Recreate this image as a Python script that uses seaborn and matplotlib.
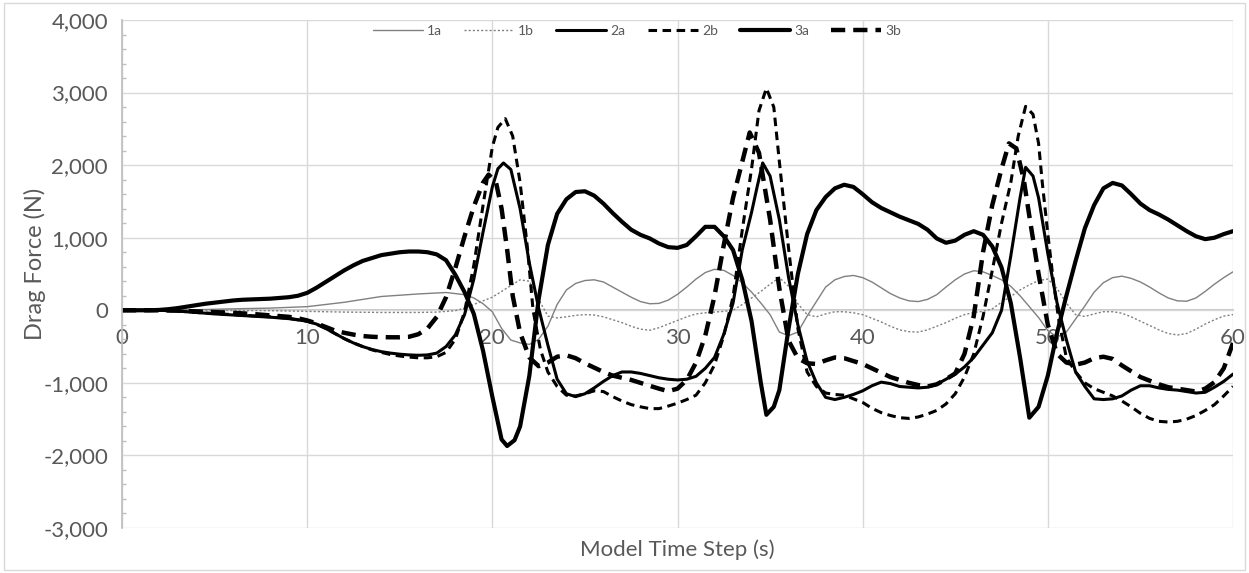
import matplotlib
matplotlib.use("Agg")
import matplotlib.pyplot as plt
import pandas as pd
import seaborn as sns
from matplotlib.ticker import FuncFormatter, MultipleLocator
from matplotlib.patches import Rectangle

# ---- data: (time s, drag force N) ----
s1a = [(0,0),(2,2),(4,8),(6,20),(8,30),(10,50),(12,110),(14,190),(16,225),(17.5,245),(18.5,215),(19,170),(19.5,90),(20,-20),
       (20.5,-250),(21,-410),(21.5,-450),(22,-470),(22.5,-400),(23,-220),(23.5,80),(24,280),(24.5,370),(25,410),(25.5,420),
       (26,390),(26.5,320),(27,250),(27.5,180),(28,120),(28.5,90),(29,95),(29.5,140),(30,220),(30.5,320),(31,430),(31.5,520),
       (32,565),(32.5,550),(33,480),(33.5,380),(34,250),(34.5,100),(35,-60),(35.5,-300),(36,-350),(36.5,-300),(37,-80),
       (37.5,120),(38,320),(38.5,420),(39,465),(39.5,480),(40,450),(40.5,390),(41,310),(41.5,230),(42,170),(42.5,130),
       (43,120),(43.5,150),(44,215),(44.5,320),(45,420),(45.5,500),(46,545),(46.5,530),(47,480),(47.5,420),(48,330),
       (48.5,200),(49,50),(49.5,-100),(50,-280),(50.5,-370),(51,-300),(51.5,-120),(52,60),(52.5,250),(53,380),(53.5,450),
       (54,470),(54.5,440),(55,390),(55.5,320),(56,240),(56.5,170),(57,130),(57.5,125),(58,170),(58.5,260),(59,360),
       (59.5,450),(60,530)]
s1b = [(0,0),(4,0),(8,-5),(10,-15),(12,-25),(14,-30),(16,-30),(17,-25),(18,-5),(18.5,30),(19,80),(19.5,130),(20,180),
       (20.5,260),(21,340),(21.5,420),(22,400),(22.5,150),(23,-80),(23.5,-105),(24,-90),(24.5,-70),(25,-60),(25.5,-65),
       (26,-90),(26.5,-130),(27,-170),(27.5,-220),(28,-260),(28.5,-275),(29,-240),(29.5,-190),(30,-140),(30.5,-90),
       (31,-50),(31.5,-35),(32,-25),(32.5,-15),(33,0),(33.5,80),(34,170),(34.5,260),(35,360),(35.5,450),(36,330),
       (36.5,90),(37,-60),(37.5,-90),(38,-50),(38.5,-20),(39,-20),(39.5,-35),(40,-60),(40.5,-110),(41,-160),(41.5,-220),
       (42,-270),(42.5,-295),(43,-300),(43.5,-270),(44,-220),(44.5,-170),(45,-110),(45.5,-60),(46,-30),(46.5,-15),
       (47,20),(47.5,110),(48,190),(48.5,280),(49,350),(49.5,410),(50,430),(50.5,300),(51,100),(51.5,-60),(52,-85),
       (52.5,-50),(53,-20),(53.5,-20),(54,-40),(54.5,-90),(55,-150),(55.5,-210),(56,-270),(56.5,-320),(57,-340),
       (57.5,-320),(58,-260),(58.5,-190),(59,-130),(59.5,-80),(60,-60)]
s2a = [(0,0),(2,0),(3,-10),(4,-30),(5,-50),(6,-65),(7,-80),(8,-95),(9,-115),(10,-150),(10.5,-190),(11,-250),(11.5,-320),
       (12,-390),(12.5,-450),(13,-500),(13.5,-540),(14,-570),(14.5,-590),(15,-605),(15.5,-615),(16,-620),(16.5,-615),
       (17,-590),(17.5,-500),(18,-340),(18.5,-60),(19,430),(19.5,1080),(20,1700),(20.3,1950),(20.6,2030),(21,1940),
       (21.5,1400),(22,650),(22.5,30),(23,-480),(23.5,-950),(24,-1150),(24.5,-1190),(25,-1150),(25.5,-1070),(26,-980),
       (26.5,-900),(27,-850),(27.5,-850),(28,-870),(28.5,-900),(29,-930),(29.5,-950),(30,-960),(30.5,-950),(31,-910),
       (31.5,-800),(32,-650),(32.5,-330),(33,100),(33.5,835),(34,1350),(34.3,1700),(34.6,2030),(35,1850),(35.5,1250),
       (36,450),(36.5,-200),(37,-700),(37.5,-1000),(38,-1200),(38.5,-1230),(39,-1200),(39.5,-1160),(40,-1110),
       (40.5,-1040),(41,-990),(41.5,-1010),(42,-1050),(42.5,-1060),(43,-1070),(43.5,-1060),(44,-1020),(44.5,-950),
       (45,-880),(45.5,-780),(46,-650),(46.5,-480),(47,-310),(47.5,0),(48,750),(48.5,1550),(48.8,1970),(49.2,1850),
       (49.5,1550),(50,780),(50.5,100),(51,-405),(51.5,-850),(52,-1050),(52.5,-1220),(53,-1230),(53.5,-1220),
       (54,-1180),(54.5,-1100),(55,-1040),(55.5,-1040),(56,-1070),(56.5,-1090),(57,-1100),(57.5,-1120),(58,-1140),
       (58.5,-1130),(59,-1060),(59.5,-980),(60,-880)]
s2b = [(0,0),(2,0),(3,-10),(4,-30),(5,-45),(6,-60),(7,-75),(8,-90),(9,-110),(10,-150),(10.5,-190),(11,-250),(11.5,-320),
       (12,-390),(12.5,-450),(13,-500),(13.5,-545),(14,-580),(14.5,-610),(15,-630),(15.5,-645),(16,-655),(16.5,-655),
       (17,-640),(17.5,-580),(18,-400),(18.5,-20),(19,620),(19.5,1450),(20,2250),(20.3,2520),(20.7,2640),(21.1,2400),
       (21.5,1760),(21.9,850),(22.2,0),(22.6,-545),(23,-850),(23.5,-1050),(24,-1170),(24.5,-1180),(25,-1150),
       (25.5,-1110),(26,-1120),(26.5,-1190),(27,-1250),(27.5,-1300),(28,-1330),(28.5,-1355),(29,-1355),(29.5,-1320),
       (30,-1280),(30.5,-1230),(31,-1170),(31.5,-1000),(32,-750),(32.5,-350),(33,185),(33.5,1110),(34,1950),
       (34.4,2750),(34.8,3060),(35.2,2800),(35.5,2050),(36,850),(36.5,-250),(37,-850),(37.5,-1050),(38,-1140),
       (38.5,-1160),(39,-1170),(39.5,-1220),(40,-1270),(40.5,-1350),(41,-1410),(41.5,-1450),(42,-1480),(42.5,-1490),
       (43,-1470),(43.5,-1430),(44,-1380),(44.5,-1290),(45,-1150),(45.5,-920),(46,-600),(46.5,-85),(47,550),
       (47.5,1200),(48,1760),(48.4,2400),(48.8,2810),(49.2,2700),(49.5,2300),(49.7,1760),(50,1050),(50.3,400),
       (50.6,-150),(51,-650),(51.5,-850),(52,-1000),(52.5,-1080),(53,-1130),(53.5,-1180),(54,-1250),(54.5,-1330),
       (55,-1420),(55.5,-1490),(56,-1530),(56.5,-1540),(57,-1530),(57.5,-1500),(58,-1450),(58.5,-1380),(59,-1300),
       (59.5,-1180),(60,-1050)]
s3a = [(0,0),(1.5,0),(2,5),(2.5,15),(3,30),(3.5,50),(4,70),(4.5,90),(5,105),(5.5,120),(6,135),(6.5,145),(7,150),
       (7.5,155),(8,160),(8.5,170),(9,180),(9.5,200),(10,240),(10.5,310),(11,390),(11.5,470),(12,550),(12.5,620),
       (13,680),(13.5,720),(14,760),(14.5,780),(15,800),(15.5,810),(16,810),(16.5,800),(17,770),(17.5,690),(18,490),
       (18.5,250),(19,-50),(19.5,-560),(20,-1190),(20.5,-1780),(20.8,-1870),(21.2,-1790),(21.5,-1600),(22,-900),
       (22.5,150),(23,900),(23.5,1330),(24,1530),(24.5,1630),(25,1640),(25.5,1580),(26,1470),(26.5,1340),(27,1220),
       (27.5,1110),(28,1040),(28.5,990),(29,920),(29.5,870),(30,860),(30.5,900),(31,1020),(31.5,1150),(32,1150),
       (32.5,1020),(33,830),(33.5,420),(34,-150),(34.5,-1000),(34.8,-1440),(35.2,-1330),(35.5,-1100),(36,-250),
       (36.5,500),(37,1050),(37.5,1380),(38,1560),(38.5,1680),(39,1730),(39.5,1700),(40,1600),(40.5,1490),(41,1410),
       (41.5,1350),(42,1290),(42.5,1240),(43,1190),(43.5,1110),(44,990),(44.5,930),(45,960),(45.5,1040),(46,1090),
       (46.5,1040),(47,880),(47.5,590),(48,100),(48.5,-650),(49,-1480),(49.5,-1330),(50,-900),(50.5,-310),(51,200),
       (51.5,680),(52,1130),(52.5,1450),(53,1680),(53.5,1755),(54,1720),(54.5,1600),(55,1470),(55.5,1380),(56,1320),
       (56.5,1250),(57,1170),(57.5,1090),(58,1020),(58.5,980),(59,1000),(59.5,1050),(60,1090)]
s3b = [(0,0),(2,0),(3,-5),(4,-15),(5,-25),(6,-35),(7,-50),(8,-70),(9,-90),(9.5,-110),(10,-140),(10.5,-180),(11,-230),
       (11.5,-280),(12,-310),(12.5,-335),(13,-355),(13.5,-365),(14,-370),(14.5,-372),(15,-372),(15.5,-365),(16,-330),
       (16.5,-250),(17,-90),(17.5,180),(18,580),(18.5,1020),(19,1430),(19.5,1760),(19.8,1870),(20.2,1760),(20.5,1400),
       (20.8,835),(21.1,200),(21.5,-310),(22,-650),(22.5,-770),(23,-720),(23.5,-640),(24,-620),(24.5,-660),(25,-730),
       (25.5,-790),(26,-850),(26.5,-900),(27,-930),(27.5,-960),(28,-1000),(28.5,-1040),(29,-1080),(29.5,-1115),
       (30,-1080),(30.5,-960),(31,-720),(31.5,-350),(32,200),(32.5,900),(33,1550),(33.5,2050),(33.9,2450),(34.4,2170),
       (35,1250),(35.5,300),(36,-420),(36.5,-660),(37,-730),(37.5,-740),(38,-690),(38.5,-650),(39,-660),(39.5,-700),
       (40,-740),(40.5,-800),(41,-860),(41.5,-920),(42,-960),(42.5,-1000),(43,-1030),(43.5,-1050),(44,-1020),
       (44.5,-950),(45,-870),(45.5,-600),(46,-80),(46.5,800),(47,1450),(47.5,1950),(47.9,2300),(48.3,2230),
       (48.7,1800),(49,1300),(49.5,500),(50,-200),(50.5,-600),(51,-720),(51.5,-750),(52,-720),(52.5,-660),(53,-640),
       (53.5,-670),(54,-760),(54.5,-840),(55,-920),(55.5,-970),(56,-1020),(56.5,-1060),(57,-1080),(57.5,-1100),
       (58,-1120),(58.5,-1080),(59,-990),(59.5,-800),(60,-450)]

series_names = ["1a", "1b", "2a", "2b", "3a", "3b"]
series_points = [s1a, s1b, s2a, s2b, s3a, s3b]
x_ticks = [0, 10, 20, 30, 40, 50, 60]
y_ticks = [-3000, -2000, -1000, 0, 1000, 2000, 3000, 4000]

# ---- styles ----
styles = {
    "1a": dict(color="#808080", lw=1.0, dash=None),
    "1b": dict(color="#808080", lw=1.0, dash=(1.5, 1.5)),
    "2a": dict(color="black", lw=2.2, dash=None),
    "2b": dict(color="black", lw=2.2, dash=(2.8, 1.8)),
    "3a": dict(color="black", lw=3.0, dash=None),
    "3b": dict(color="black", lw=3.2, dash=(3.2, 1.8)),
}

frames = []
for name, pts in zip(series_names, series_points):
    d = pd.DataFrame(pts, columns=["t", "F"])
    d["series"] = name
    frames.append(d)
df = pd.concat(frames, ignore_index=True)

sns.set_theme(style="white")
plt.rcParams["font.family"] = ["Lato", "DejaVu Sans"]
grey_txt = "#595959"
axis_grey = "#bfbfbf"

W, H = 1249, 573
fig = plt.figure(figsize=(W / 100, H / 100), dpi=100)
ax = fig.add_axes([122 / W, 1 - 528 / H, (1233 - 122) / W, (528 - 20) / H])

for name in series_names:
    st = styles[name]
    sub = df[df["series"] == name]
    sns.lineplot(data=sub, x="t", y="F", ax=ax, color=st["color"], linewidth=st["lw"],
                 estimator=None, sort=False, label=name)
    ln = ax.get_lines()[-1]
    if st["dash"] is not None:
        ln.set_dashes(st["dash"])
    ln.set_solid_capstyle("round")
    ln.set_solid_joinstyle("round")

ax.set_xlim(0, 60)
ax.set_ylim(-3000, 4000)
ax.set_xticks(x_ticks)
ax.set_yticks(y_ticks)
ax.yaxis.set_minor_locator(MultipleLocator(200))
ax.yaxis.set_major_formatter(FuncFormatter(lambda v, p: f"{int(round(v)):,}"))
ax.grid(True, which="major", color="#d9d9d9", linewidth=1.0)
ax.set_axisbelow(True)

for sp in ["top", "right"]:
    ax.spines[sp].set_visible(False)
ax.spines["left"].set_color(axis_grey)
ax.spines["bottom"].set_position(("data", 0))
ax.spines["bottom"].set_color(axis_grey)
ax.spines["bottom"].set_zorder(0.5)

ax.tick_params(axis="x", length=0, pad=13, labelsize=16, labelcolor=grey_txt)
ax.tick_params(axis="y", which="major", length=6, direction="out", color=axis_grey,
               labelsize=16, labelcolor=grey_txt, pad=4)
ax.tick_params(axis="y", which="minor", length=3, direction="in", color=axis_grey, left=True)

ax.set_xlabel("Model Time Step (s)", fontsize=16, color=grey_txt)
ax.set_ylabel("Drag Force (N)", fontsize=17, color=grey_txt)
ax.xaxis.set_label_coords(0.5, -0.022)
ax.yaxis.set_label_coords(-0.068, 0.52)

handles, labels = ax.get_legend_handles_labels()
leg = ax.legend(handles, labels, ncol=6, loc="center", bbox_to_anchor=(0.4636, 0.978),
                frameon=False, fontsize=10, handlelength=3.6, handletextpad=0.3,
                columnspacing=1.6, borderaxespad=0)
for t in leg.get_texts():
    t.set_color(grey_txt)

fig.patches.append(Rectangle((4 / W, 3 / H), (1245 - 4) / W, (570 - 3) / H, transform=fig.transFigure,
                             fill=False, edgecolor="#d9d9d9", linewidth=1.0))

fig.savefig("out.png", dpi=100)
